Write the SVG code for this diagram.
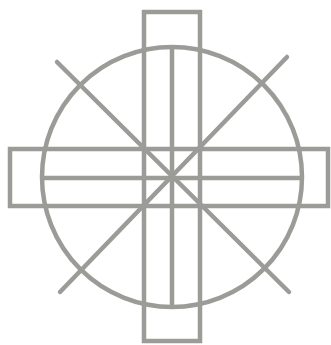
<svg xmlns="http://www.w3.org/2000/svg" width="331" height="345" viewBox="0 0 331 345">
<style>
.s{fill:none;stroke:#9b9c98;stroke-width:4.5}
.d{stroke-linecap:round}
</style>
<rect width="331" height="345" fill="#ffffff"/>
<g id="circle"><circle class="s" cx="172" cy="177" r="130"/></g>
<g id="vertical-bar"><rect class="s" x="144" y="12" width="56" height="329"/></g>
<g id="horizontal-bar"><rect class="s" x="10" y="149" width="318" height="57"/></g>
<g id="connectors">
<line class="s" x1="172" y1="47" x2="172" y2="307"/>
<line class="s" x1="42" y1="178" x2="302" y2="178"/>
<line class="s d" x1="57" y1="62" x2="289" y2="292"/>
<line class="s d" x1="287" y1="57" x2="60" y2="292"/>
</g>
</svg>
